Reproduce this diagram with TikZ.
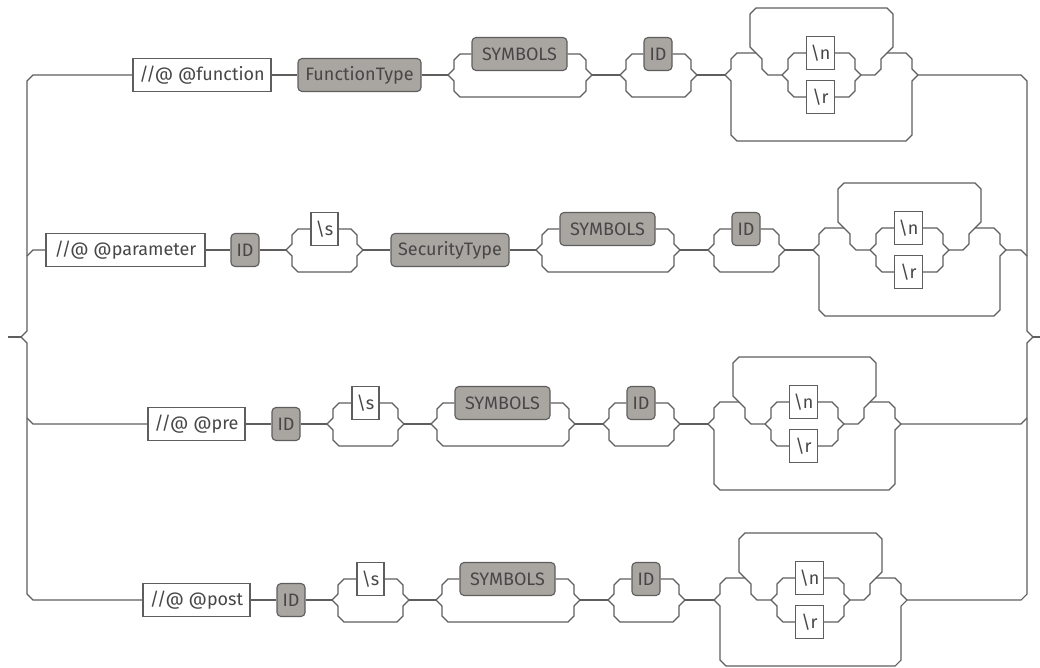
\documentclass[tikz,border=0pt]{standalone}
\usepackage{fontspec}
\setmainfont{Fira Sans}
\usetikzlibrary{calc}
\definecolor{railc}{HTML}{5E5E5E}
\definecolor{boxg}{HTML}{A9A5A1}
\definecolor{txtc}{HTML}{474747}
\tikzset{
 rail/.style={draw=railc, line width=1.1pt},
 term/.style={draw=railc, line width=1.1pt, fill=white, minimum height=33pt, inner sep=0pt, text=txtc, font=\fontsize{18}{21}\selectfont},
 nonterm/.style={term, fill=boxg, rounded corners=4pt},
}
% optional element: #1 box node, #2 split x, #3 merge x, #4 main y
\newcommand\ropt[4]{%
 \coordinate (#1s) at (#2,#4);
 \coordinate (#1m) at (#3,#4);
 \draw[rail] (#1s) -- (#2+6,#4-6) -- (#2+6,#4-15) -- (#2+12,#4-21) -- (#1.west);
 \draw[rail] (#1.east) -- (#3-12,#4-21) -- (#3-6,#4-15) -- (#3-6,#4-6) -- (#1m);
 \draw[rail] (#1s) -- (#2+6,#4+6) -- (#2+6,#4+16) -- (#2+12,#4+22) -- (#3-12,#4+22) -- (#3-6,#4+16) -- (#3-6,#4+6) -- (#1m);
}
% optional repeated choice of \n / \r: #1 name, #2 split x, #3 main y
\newcommand\rloop[3]{%
 \node[term, minimum width=28pt] (#1n) at (#2+95.5,#3-22) {\textbackslash n};
 \node[term, minimum width=28pt] (#1r) at (#2+95.5,#3+22) {\textbackslash r};
 \coordinate (#1s) at (#2,#3);
 \coordinate (#1m) at (#2+193,#3);
 \coordinate (#1cs) at (#2+57,#3);
 \coordinate (#1ce) at (#2+136,#3);
 \draw[rail] (#1s) -- (#2+6,#3+6) -- (#2+6,#3+60) -- (#2+12,#3+66) -- (#2+181,#3+66) -- (#2+187,#3+60) -- (#2+187,#3+6) -- (#1m);
 \draw[rail] (#1s) -- (#2+6,#3-6) -- (#2+6,#3-16) -- (#2+12,#3-22) -- (#2+31,#3-22);
 \draw[rail] (#1cs) -- (#2+43,#3) -- (#2+37,#3-6) -- (#2+37,#3-16) -- (#2+25,#3-28) -- (#2+25,#3-61) -- (#2+31,#3-67) -- (#2+162,#3-67) -- (#2+168,#3-61) -- (#2+168,#3-28) -- (#2+156,#3-16) -- (#2+156,#3-6) -- (#2+150,#3) -- (#1ce);
 \draw[rail] (#2+162,#3-22) -- (#2+181,#3-22) -- (#2+187,#3-16) -- (#2+187,#3-6) -- (#1m);
 \draw[rail] (#1cs) -- (#2+63,#3-6) -- (#2+63,#3-16) -- (#2+69,#3-22) -- (#1n.west);
 \draw[rail] (#1cs) -- (#2+63,#3+6) -- (#2+63,#3+16) -- (#2+69,#3+22) -- (#1r.west);
 \draw[rail] (#1n.east) -- (#2+124,#3-22) -- (#2+130,#3-16) -- (#2+130,#3-6) -- (#1ce);
 \draw[rail] (#1r.east) -- (#2+124,#3+22) -- (#2+130,#3+16) -- (#2+130,#3+6) -- (#1ce);
}
\begin{document}
\begin{tikzpicture}[x=1pt,y=-1pt]
\useasboundingbox (0,0) rectangle (1040,667);
\fill[white] (0,0) rectangle (1040,667);

% ---------- row 1 ----------
\node[term, minimum width=138pt] (r1a) at (202,75) {//@ @function};
\node[nonterm, minimum width=123pt] (r1b) at (359.5,75) {FunctionType};
\node[nonterm, minimum width=95pt] (r1sym) at (519.5,54) {SYMBOLS};
\node[nonterm, minimum width=28pt] (r1id) at (658,54) {ID};
\ropt{r1sym}{448}{592}{75}
\ropt{r1id}{620}{697}{75}
\rloop{r1l}{725}{75}
\draw[rail] (r1a) -- (r1b);
\draw[rail] (r1b) -- (r1syms);
\draw[rail] (r1symm) -- (r1ids);
\draw[rail] (r1idm) -- (r1ls);

% ---------- row 2 ----------
\node[term, minimum width=159pt] (r2a) at (125.5,250) {//@ @parameter};
\node[nonterm, minimum width=28pt] (r2b) at (245,250) {ID};
\node[term, minimum width=27pt] (r2s) at (324.5,229) {\textbackslash s};
\node[nonterm, minimum width=118pt] (r2c) at (450,250) {SecurityType};
\node[nonterm, minimum width=95pt] (r2sym) at (607.5,229) {SYMBOLS};
\node[nonterm, minimum width=28pt] (r2id) at (746,229) {ID};
\ropt{r2s}{286}{363}{250}
\ropt{r2sym}{536}{680}{250}
\ropt{r2id}{708}{785}{250}
\rloop{r2l}{813}{250}
\draw[rail] (r2a) -- (r2b);
\draw[rail] (r2b) -- (r2ss);
\draw[rail] (r2sm) -- (r2c);
\draw[rail] (r2c) -- (r2syms);
\draw[rail] (r2symm) -- (r2ids);
\draw[rail] (r2idm) -- (r2ls);

% ---------- row 3 ----------
\node[term, minimum width=97pt] (r3a) at (196.5,424) {//@ @pre};
\node[nonterm, minimum width=28pt] (r3b) at (286,424) {ID};
\node[term, minimum width=27pt] (r3s) at (365.5,403) {\textbackslash s};
\node[nonterm, minimum width=95pt] (r3sym) at (502.5,403) {SYMBOLS};
\node[nonterm, minimum width=28pt] (r3id) at (641,403) {ID};
\ropt{r3s}{327}{404}{424}
\ropt{r3sym}{431}{575}{424}
\ropt{r3id}{603}{680}{424}
\rloop{r3l}{708}{424}
\draw[rail] (r3a) -- (r3b);
\draw[rail] (r3b) -- (r3ss);
\draw[rail] (r3sm) -- (r3syms);
\draw[rail] (r3symm) -- (r3ids);
\draw[rail] (r3idm) -- (r3ls);

% ---------- row 4 ----------
\node[term, minimum width=107pt] (r4a) at (196.5,600) {//@ @post};
\node[nonterm, minimum width=28pt] (r4b) at (291,600) {ID};
\node[term, minimum width=27pt] (r4s) at (370.5,579) {\textbackslash s};
\node[nonterm, minimum width=95pt] (r4sym) at (507.5,579) {SYMBOLS};
\node[nonterm, minimum width=28pt] (r4id) at (646,579) {ID};
\ropt{r4s}{332}{409}{600}
\ropt{r4sym}{436}{580}{600}
\ropt{r4id}{608}{685}{600}
\rloop{r4l}{714}{600}
\draw[rail] (r4a) -- (r4b);
\draw[rail] (r4b) -- (r4ss);
\draw[rail] (r4sm) -- (r4syms);
\draw[rail] (r4symm) -- (r4ids);
\draw[rail] (r4idm) -- (r4ls);

% ---------- outer rails ----------
\coordinate (in) at (8,337);
\coordinate (inj) at (21,337);
\coordinate (out) at (1040,337);
\coordinate (outj) at (1033,337);
\draw[rail] (in) -- (inj);
\draw[rail] (inj) -- (27,331) -- (27,81) -- (33,75) -- (r1a);
\draw[rail] (inj) -- (27,343) -- (27,594) -- (33,600) -- (r4a);
\draw[rail] (27,256) -- (33,250) -- (r2a);
\draw[rail] (27,418) -- (33,424) -- (r3a);
\draw[rail] (r1lm) -- (1021,75) -- (1027,81) -- (1027,331) -- (outj);
\draw[rail] (r4lm) -- (1021,600) -- (1027,594) -- (1027,343) -- (outj);
\draw[rail] (r2lm) -- (1021,250) -- (1027,256);
\draw[rail] (r3lm) -- (1021,424) -- (1027,418);
\draw[rail] (outj) -- (out);
\end{tikzpicture}
\end{document}
